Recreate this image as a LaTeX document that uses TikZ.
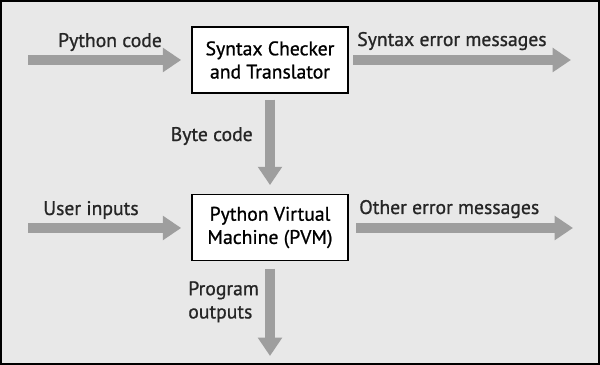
\documentclass[tikz,border=0pt]{standalone}
\usepackage{fontspec}
\setmainfont{PT Sans}[FakeBold=0.9]
\usepackage{tikz}
\usetikzlibrary{arrows.meta,positioning,calc}

\begin{document}
\begin{tikzpicture}[
  x=0.025cm, y=-0.025cm,
  font=\fontsize{14}{16.5}\selectfont,
  stage/.style={draw=black, line width=1.4pt, fill=white, minimum width=156*0.025cm,
    minimum height=66*0.025cm, align=center, inner sep=0pt},
  flow/.style={draw=black!38, line width=7.1pt,
    -{Triangle[width=16.5pt, length=13pt]}},
  lab/.style={inner sep=0pt, text=black!85},
]
% Background and frame
\useasboundingbox (0,0) rectangle (600,365);
\draw[fill=black!9, line width=1.6pt] (0.6,0.6) rectangle (599.4,364.4);

% Stages
\node[stage] (checker) at (270,60) {Syntax Checker\\and Translator};
\node[stage] (pvm) at (270,227.5) {Python Virtual\\Machine (PVM)};

% Free ends
\coordinate (srcin) at (28,60);
\coordinate (synout) at (571,60);
\coordinate (usrin) at (28,228);
\coordinate (othout) at (573,228);
\coordinate (progout) at (270,356);

% Arrows
\draw[flow] (srcin) -- ([xshift=-7pt]checker.west |- srcin);
\draw[flow] ([xshift=3pt]checker.east) -- (synout);
\draw[flow] ([yshift=-4pt]checker.south) -- ([yshift=6pt]pvm.north);
\draw[flow] (usrin) -- ([xshift=-7pt]pvm.west |- usrin);
\draw[flow] ([xshift=5pt]pvm.east |- othout) -- (othout);
\draw[flow] ([yshift=-5pt]pvm.south) -- (progout);

% Labels
\node[lab, anchor=base] (srclab) at (110,47) {Python code};
\node[lab, anchor=base west] (synlab) at (357,46) {Syntax error messages};
\node[lab, anchor=base east] (bytelab) at (253,141) {Byte code};
\node[lab, anchor=base west] (usrlab) at (43,215) {User inputs};
\node[lab, anchor=base west] (othlab) at (359,214) {Other error messages};
\node[lab, anchor=north west, align=left] (proglab) at (188,281) {Program\\outputs};
\end{tikzpicture}
\end{document}
